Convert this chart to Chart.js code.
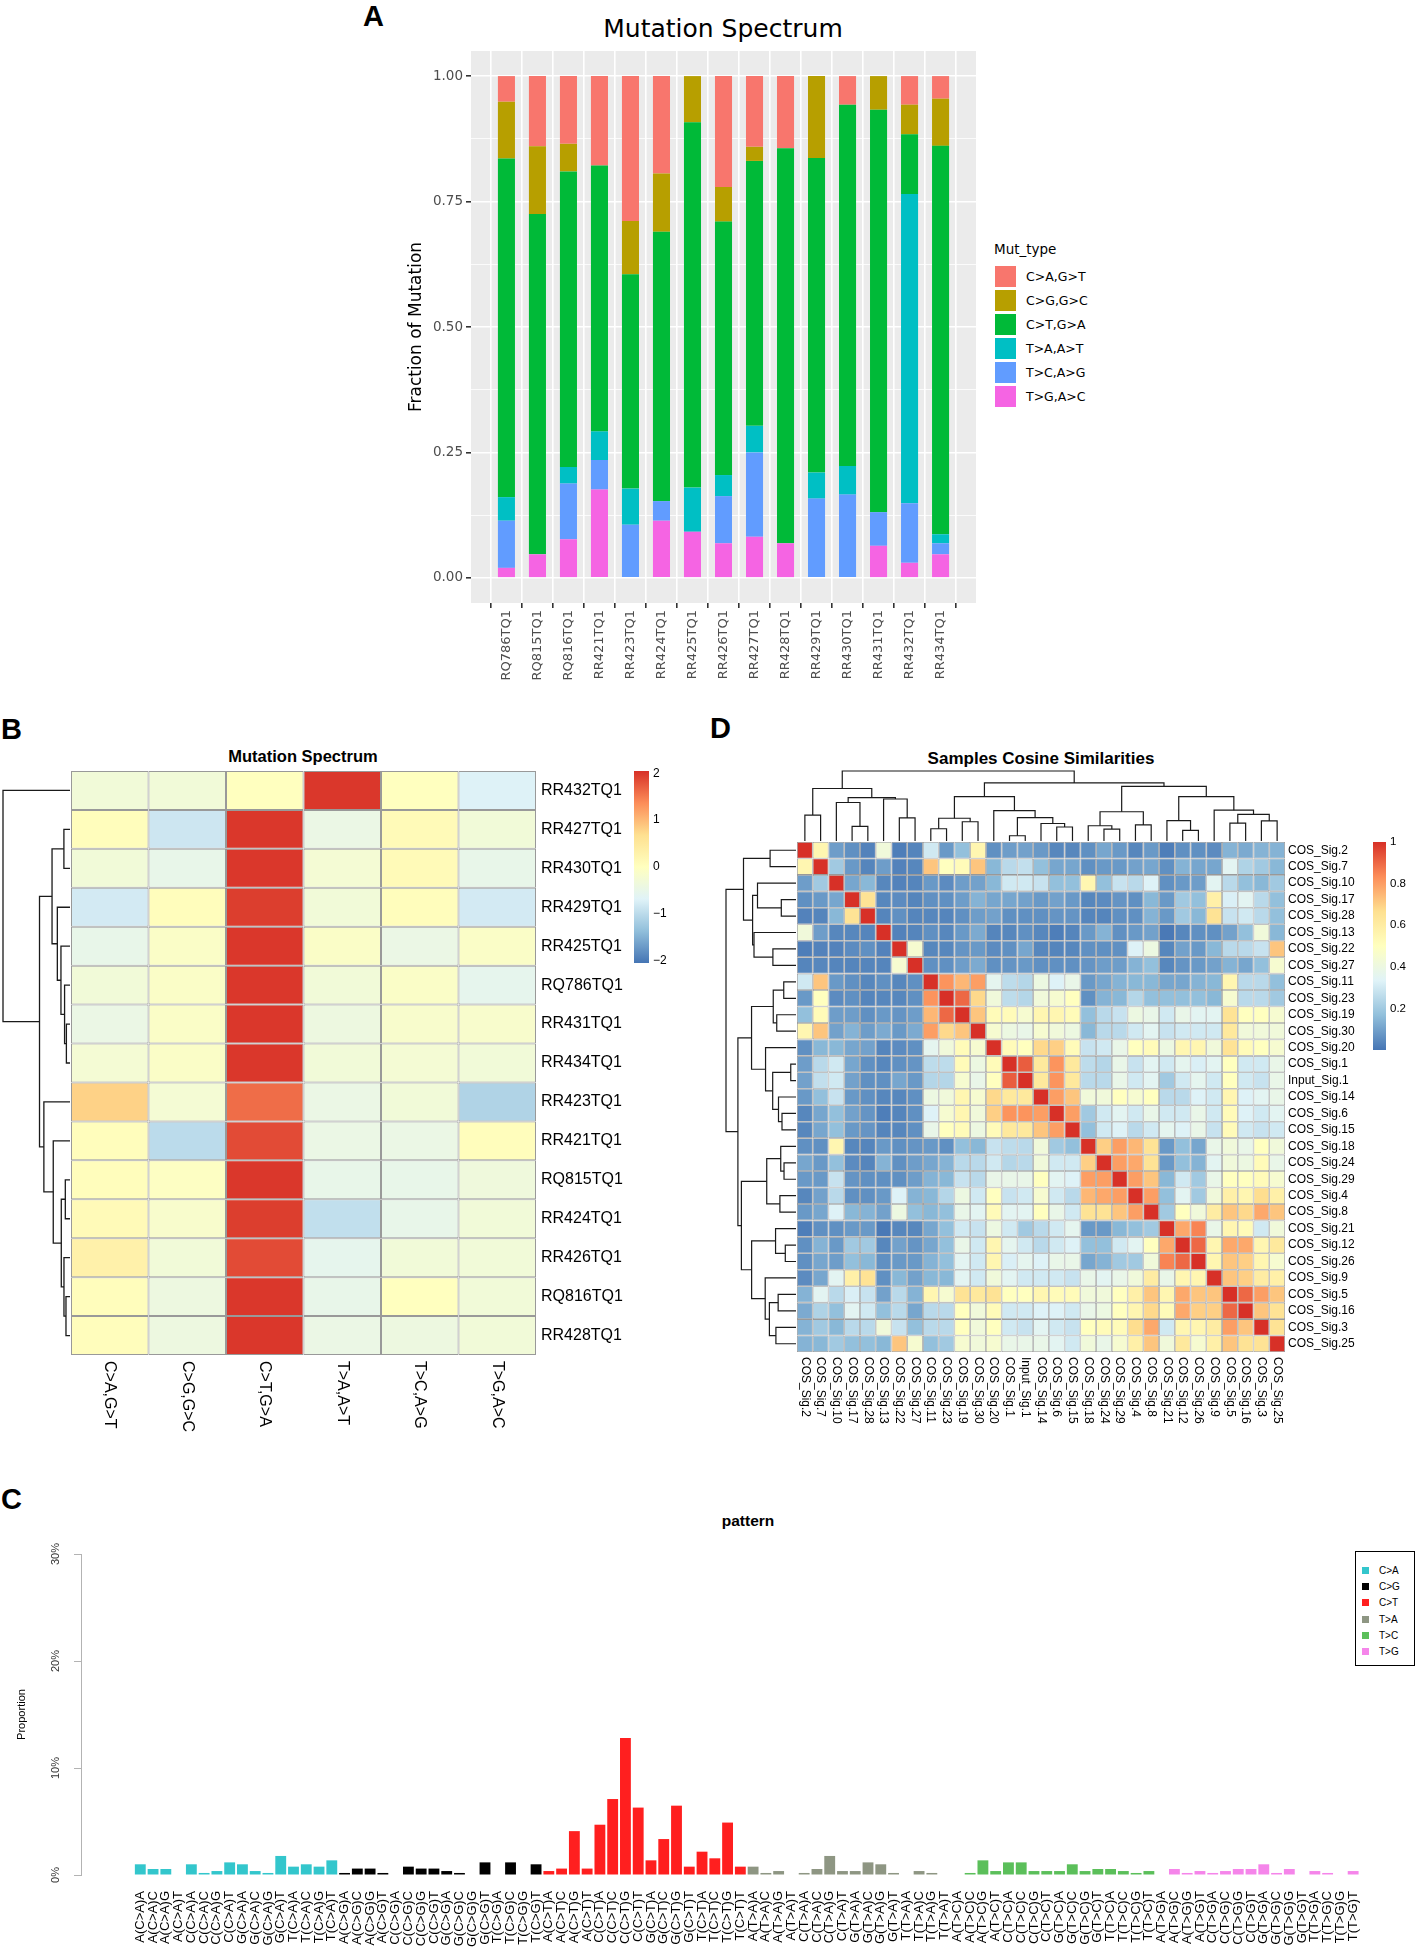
<!DOCTYPE html>
<html>
<head>
<meta charset="utf-8">
<title>Mutation spectrum panels</title>
<script src="https://cdn.jsdelivr.net/npm/chart.js@4.4.1/dist/chart.umd.min.js"></script>
<style>
  html, body { margin: 0; padding: 0; background: #fff; }
  body { position: relative; width: 1417px; height: 1949px; overflow: hidden; font-family: "Liberation Sans", Arial, sans-serif; color: #000; }
  .abs { position: absolute; }
  .letter { position: absolute; font-weight: bold; font-size: 29px; line-height: 29px; }
  .title { position: absolute; width: 600px; text-align: center; line-height: 1; white-space: nowrap; }
</style>
</head>
<body>
<div class="letter" style="left:363px;top:2px">A</div>
<div class="letter" style="left:1px;top:715px">B</div>
<div class="letter" style="left:710px;top:714px">D</div>
<div class="letter" style="left:1px;top:1485px">C</div>

<div class="title" style="left:423px;top:16px;font-family:'DejaVu Sans';font-size:25px">Mutation Spectrum</div>
<div class="title" style="left:3px;top:748px;font-weight:bold;font-size:16.5px">Mutation Spectrum</div>
<div class="title" style="left:741px;top:750px;font-weight:bold;font-size:17px">Samples Cosine Similarities</div>
<div class="title" style="left:448px;top:1513px;font-weight:bold;font-size:15.5px">pattern</div>

<div class="abs" style="left:380px;top:0;width:600px;height:700px"><canvas id="chartA"></canvas></div>
<div class="abs" id="legendA" style="left:994px;top:0;width:200px;height:420px;font-family:'DejaVu Sans'"></div>
<div class="abs" style="left:0;top:740px;width:700px;height:700px"><canvas id="chartB"></canvas></div>
<div class="abs" style="left:700px;top:740px;width:717px;height:700px"><canvas id="chartD"></canvas></div>
<div class="abs" style="left:0;top:1530px;width:1417px;height:419px"><canvas id="chartC"></canvas></div>
<div class="abs" id="legendC" style="left:1355px;top:1551px;width:58px;height:113px;border:1px solid #000;background:#fff"></div>

<script>
// ---------- panel A : mutation spectrum per sample ----------
const samplesA = ['RQ786TQ1','RQ815TQ1','RQ816TQ1','RR421TQ1','RR423TQ1','RR424TQ1','RR425TQ1','RR426TQ1',
                  'RR427TQ1','RR428TQ1','RR429TQ1','RR430TQ1','RR431TQ1','RR432TQ1','RR434TQ1'];
const mutTypes = ['C>A,G>T','C>G,G>C','C>T,G>A','T>A,A>T','T>C,A>G','T>G,A>C'];
const colorsA = ['#F8766D','#B79F00','#00BA38','#00BFC4','#619CFF','#F564E3'];
const fracCA = [0.051,0.140,0.135,0.178,0.289,0.194,0.000,0.221,0.141,0.144,0.000,0.057,0.000,0.057,0.045];
const fracCG = [0.113,0.135,0.055,0.000,0.106,0.116,0.092,0.069,0.028,0.000,0.163,0.000,0.067,0.059,0.094];
const fracCT = [0.675,0.678,0.589,0.530,0.427,0.537,0.728,0.505,0.528,0.787,0.627,0.720,0.802,0.119,0.774];
const fracTA = [0.047,0.000,0.033,0.057,0.072,0.000,0.088,0.042,0.053,0.000,0.052,0.057,0.000,0.616,0.018];
const fracTC = [0.094,0.000,0.111,0.059,0.106,0.039,0.000,0.094,0.168,0.000,0.158,0.166,0.067,0.119,0.022];
const fracTG = [0.020,0.047,0.077,0.176,0.000,0.114,0.092,0.069,0.082,0.069,0.000,0.000,0.064,0.030,0.047];
const yGridA = [0, 0.125, 0.25, 0.375, 0.5, 0.625, 0.75, 0.875, 1];
const yMajorA = [0, 0.25, 0.5, 0.75, 1];

// ---------- panel B : row-scaled spectrum heatmap ----------
const rowsB = ['RR432TQ1','RR427TQ1','RR430TQ1','RR429TQ1','RR425TQ1','RQ786TQ1','RR431TQ1','RR434TQ1',
               'RR423TQ1','RR421TQ1','RQ815TQ1','RR424TQ1','RR426TQ1','RQ816TQ1','RR428TQ1'];
const zScoreB = [
  [-0.30,-0.30, 0.00, 2.00, 0.00,-0.70],
  [ 0.05,-0.85, 2.00,-0.45, 0.10,-0.30],
  [-0.30,-0.50, 2.00,-0.25, 0.10,-0.50],
  [-0.80, 0.05, 1.95,-0.30, 0.05,-0.80],
  [-0.50,-0.10, 2.00,-0.10,-0.45,-0.10],
  [-0.30,-0.10, 2.00,-0.30,-0.10,-0.55],
  [-0.45,-0.10, 2.00,-0.40,-0.15,-0.15],
  [-0.25,-0.10, 2.00,-0.30,-0.25,-0.30],
  [ 0.80,-0.25, 1.60,-0.45,-0.30,-1.10],
  [ 0.05,-1.00, 1.85,-0.45,-0.45, 0.05],
  [ 0.05,-0.05, 2.00,-0.50,-0.50,-0.35],
  [ 0.10,-0.15, 1.95,-0.95,-0.50,-0.30],
  [ 0.30,-0.30, 1.85,-0.55,-0.30,-0.30],
  [ 0.05,-0.40, 2.00,-0.50, 0.00,-0.30],
  [ 0.05,-0.40, 2.00,-0.45,-0.40,-0.30]
];
// dendrogram: [left, right, height]; numbers are row indices
const rowTreeB = [0, [[[1, 2, 0.091], [3, [4, [5, [6, 7, 0.054], 0.081], 0.135], 0.189], 0.268],
                      [8, [9, [[10, 11, 0.07], [12, [13, 14, 0.06], 0.09], 0.13], 0.25], 0.39], 0.455], 1.0];
const keyTicksB = [2, 1, 0, -1, -2];
const keyLabelsB = ['2', '1', '0', '\u22121', '\u22122'];

// ---------- panel D : cosine similarities ----------
const sigNames = ['COS_Sig.2','COS_Sig.7','COS_Sig.10','COS_Sig.17','COS_Sig.28','COS_Sig.13','COS_Sig.22','COS_Sig.27',
  'COS_Sig.11','COS_Sig.23','COS_Sig.19','COS_Sig.30','COS_Sig.20','COS_Sig.1','Input_Sig.1','COS_Sig.14','COS_Sig.6',
  'COS_Sig.15','COS_Sig.18','COS_Sig.24','COS_Sig.29','COS_Sig.4','COS_Sig.8','COS_Sig.21','COS_Sig.12','COS_Sig.26',
  'COS_Sig.9','COS_Sig.5','COS_Sig.16','COS_Sig.3','COS_Sig.25'];
// upper triangle, row i holds columns i..30
const simUpper = [
  [1,.55,.09,.06,.03,.42,.02,.035,.3,.08,.17,.55,.06,.09,.1,.08,.04,.04,.06,.11,.08,.04,.08,.02,.06,.06,.05,.14,.12,.14,.14],
  [1,.2,.08,.035,.09,.03,.04,.72,.5,.52,.72,.15,.25,.27,.17,.11,.11,.06,.08,.08,.1,.11,.06,.14,.11,.11,.35,.23,.2,.15],
  [1,.11,.15,.04,.03,.035,.08,.05,.09,.1,.15,.3,.3,.28,.17,.17,.55,.17,.28,.25,.33,.06,.08,.09,.35,.25,.17,.15,.2],
  [1,.65,.04,.05,.035,.06,.06,.09,.14,.11,.11,.1,.08,.1,.08,.04,.05,.07,.06,.15,.08,.2,.17,.58,.32,.35,.25,.17],
  [1,.035,.06,.035,.04,.035,.06,.09,.1,.06,.06,.06,.07,.07,.035,.035,.06,.06,.14,.08,.2,.15,.65,.28,.3,.25,.17],
  [1,.03,.035,.06,.04,.08,.12,.035,.04,.06,.04,.02,.035,.08,.14,.06,.08,.1,.01,.04,.06,.06,.1,.17,.42,.15],
  [1,.45,.04,.04,.07,.08,.05,.06,.11,.04,.035,.04,.06,.06,.06,.33,.4,.04,.1,.08,.15,.25,.25,.28,.72],
  [1,.06,.06,.09,.12,.06,.07,.08,.06,.06,.06,.07,.09,.09,.14,.17,.04,.07,.08,.1,.14,.11,.17,.45],
  [1,.82,.75,.8,.36,.26,.24,.4,.33,.38,.08,.11,.14,.15,.15,.11,.11,.14,.15,.55,.25,.25,.17],
  [1,.9,.68,.42,.26,.24,.42,.45,.5,.06,.14,.15,.24,.17,.17,.17,.17,.15,.45,.25,.25,.2],
  [1,.72,.52,.52,.45,.55,.55,.52,.17,.25,.28,.4,.38,.3,.38,.35,.35,.65,.5,.5,.45],
  [1,.45,.4,.38,.45,.42,.4,.15,.25,.25,.3,.35,.28,.3,.3,.3,.62,.42,.42,.42],
  [1,.52,.5,.68,.7,.52,.28,.3,.38,.5,.52,.4,.55,.55,.42,.65,.52,.5,.45],
  [1,.92,.62,.82,.62,.26,.24,.38,.28,.35,.3,.36,.32,.35,.5,.3,.3,.38],
  [1,.62,.82,.62,.25,.25,.38,.3,.35,.2,.3,.36,.3,.5,.3,.28,.38],
  [1,.8,.72,.42,.42,.5,.45,.5,.25,.25,.33,.3,.55,.33,.35,.38],
  [1,.8,.2,.3,.35,.3,.38,.3,.3,.38,.3,.52,.33,.3,.35],
  [1,.17,.3,.33,.25,.3,.36,.33,.38,.28,.52,.3,.28,.3],
  [1,.7,.8,.75,.65,.08,.17,.11,.38,.42,.38,.5,.42],
  [1,.8,.78,.65,.08,.17,.14,.35,.42,.4,.52,.38],
  [1,.8,.72,.15,.3,.2,.38,.5,.5,.52,.45],
  [1,.8,.17,.35,.2,.42,.58,.55,.67,.58],
  [1,.2,.5,.42,.6,.72,.68,.78,.72],
  [1,.78,.85,.38,.55,.52,.3,.42],
  [1,.9,.55,.78,.78,.55,.62],
  [1,.55,.72,.7,.55,.45],
  [1,.72,.7,.6,.58],
  [1,.9,.8,.72],
  [1,.72,.65],
  [1,.65],
  [1]
];
const sigTree = [
  [[0, 1, 0.37], [[2, [3, 4, 0.21], 0.55], [5, [6, 7, 0.33], 0.60], 0.62], 0.75],
  [[[[8, 9, 0.175], [10, 11, 0.275], 0.325], [12, [[13, 14, 0.075], [15, [16, 17, 0.2], 0.25], 0.333], 0.435], 0.635],
   [[[18, [19, 20, 0.171], 0.218], [21, 22, 0.23], 0.418],
    [[23, [24, 25, 0.153], 0.292], [26, [[27, 28, 0.255], [29, 30, 0.287], 0.38], 0.44], 0.634], 0.78], 0.83],
  1.0];
const keyTicksD = [1, 0.8, 0.6, 0.4, 0.2];
const keyLabelsD = ['1', '0.8', '0.6', '0.4', '0.2'];

// ---------- panel C : 96 trinucleotide pattern ----------
const baseSubs = ['C>A','C>G','C>T','T>A','T>C','T>G'];
const flanks = ['A','C','G','T'];
const subColors = ['#33C6CC','#000000','#FF1F1F','#8E9683','#5BBF5A','#F585EA'];
const pctCA = [1.0,0.56,0.56,0,1.0,0.19,0.37,1.18,1.0,0.37,0.19,1.78,0.78,1.0,0.78,1.37];
const pctCG = [0.19,0.6,0.6,0.19,0,0.78,0.6,0.6,0.37,0.19,0,1.18,0,1.18,0,1.0];
const pctCT = [0.37,0.6,4.1,0.6,4.7,7.1,12.8,6.3,1.37,3.36,6.48,0.78,2.18,1.56,4.9,0.78];
const pctTA = [0.78,0.19,0.37,0,0.19,0.56,1.78,0.37,0.37,1.18,1.0,0.19,0,0.37,0.19,0];
const pctTC = [0,0.19,1.37,0.37,1.18,1.18,0.37,0.37,0.37,1.0,0.37,0.56,0.56,0.37,0.19,0.37];
const pctTG = [0,0.56,0.19,0.37,0.19,0.37,0.56,0.56,1.0,0.19,0.56,0,0.37,0.19,0,0.37];
const yTicksC = [0, 10, 20, 30];

// ---------- shared helpers ----------
const FAM = '"Liberation Sans", Arial, sans-serif';
const FAM_A = '"DejaVu Sans", sans-serif';
Chart.defaults.font.family = FAM;
Chart.defaults.color = '#000';
Chart.defaults.animation = false;
Chart.defaults.responsive = true;
Chart.defaults.maintainAspectRatio = false;
Chart.defaults.plugins.legend.display = false;
Chart.defaults.plugins.tooltip.enabled = false;

const ramp = ['#4575B4','#91BFDB','#E0F3F8','#FFFFBF','#FEE090','#FC8D59','#D73027'];
function hexRgb(h) { const n = parseInt(h.slice(1), 16); return [n >> 16, (n >> 8) & 255, n & 255]; }
function rampColor(t) {
  t = Math.max(0, Math.min(1, t));
  const p = t * (ramp.length - 1);
  const i = Math.min(Math.floor(p), ramp.length - 2);
  const f = p - i, a = hexRgb(ramp[i]), b = hexRgb(ramp[i + 1]);
  return 'rgb(' + a.map((v, k) => Math.round(v + (b[k] - v) * f)).join(',') + ')';
}

function drawTree(ctx, node, leafPos, hPos, top) {
  function walk(n) {
    if (typeof n === 'number') return { p: leafPos(n), h: 0 };
    const L = walk(n[0]), R = walk(n[1]), h = n[2];
    ctx.beginPath();
    if (top) {
      ctx.moveTo(L.p, hPos(L.h)); ctx.lineTo(L.p, hPos(h)); ctx.lineTo(R.p, hPos(h)); ctx.lineTo(R.p, hPos(R.h));
    } else {
      ctx.moveTo(hPos(L.h), L.p); ctx.lineTo(hPos(h), L.p); ctx.lineTo(hPos(h), R.p); ctx.lineTo(hPos(R.h), R.p);
    }
    ctx.stroke();
    return { p: (L.p + R.p) / 2, h: h };
  }
  walk(node);
}

// column labels, dendrograms and colour key around a heatmap
function makeHeatExtras(cfg) {
  return {
    id: 'heatExtras',
    afterDraw(chart) {
      const { ctx, chartArea: a, scales: { x, y } } = chart;
      ctx.save();
      ctx.fillStyle = '#000';
      ctx.font = cfg.colFont + 'px ' + FAM;
      ctx.textAlign = 'left';
      ctx.textBaseline = 'middle';
      cfg.cols.forEach((lab, i) => {
        ctx.save();
        ctx.translate(x.getPixelForValue(i), a.bottom + cfg.colGap);
        ctx.rotate(Math.PI / 2);
        ctx.fillText(lab, 0, 0);
        ctx.restore();
      });
      ctx.strokeStyle = '#1a1a1a';
      ctx.lineWidth = cfg.treeLine;
      drawTree(ctx, cfg.rowTree, i => y.getPixelForValue(i + 0.5), h => a.left - 1 - h * cfg.treeSize, false);
      if (cfg.colTree) drawTree(ctx, cfg.colTree, i => x.getPixelForValue(i), h => a.top - 1 - h * cfg.treeSize, true);
      const k = cfg.key, x0 = a.right + k.dx, y0 = a.top;
      const g = ctx.createLinearGradient(0, y0 + k.height, 0, y0);
      ramp.forEach((c, i) => g.addColorStop(i / (ramp.length - 1), c));
      ctx.fillStyle = g;
      ctx.fillRect(x0, y0, k.width, k.height);
      ctx.fillStyle = '#000';
      ctx.font = k.font + 'px ' + FAM;
      k.ticks.forEach((v, i) => {
        ctx.fillText(k.labels[i], x0 + k.width + 4, y0 + (cfg.max - v) / (cfg.max - cfg.min) * k.height);
      });
      ctx.restore();
    }
  };
}

function heatmap(id, rows, cols, cellValue, opt) {
  const span = opt.max - opt.min;
  return new Chart(document.getElementById(id), {
    type: 'bar',
    data: {
      labels: cols,
      datasets: rows.map((name, r) => ({
        label: name,
        data: cols.map(() => [r, r + 1]),
        backgroundColor: cols.map((_, c) => rampColor((cellValue(r, c) - opt.min) / span)),
        borderColor: '#999999',
        borderWidth: opt.border,
        borderSkipped: false,
        inflateAmount: 0,
        grouped: false,
        barPercentage: 1,
        categoryPercentage: 1
      }))
    },
    options: {
      layout: { padding: opt.padding },
      scales: {
        x: {
          grid: { display: false, drawTicks: false },
          border: { display: false },
          ticks: { display: false },
          afterFit: s => { s.height = opt.xHeight; }
        },
        y: {
          type: 'linear', position: 'right', reverse: true, min: 0, max: rows.length,
          grid: { display: false, drawTicks: false },
          border: { display: false },
          afterBuildTicks: s => { s.ticks = rows.map((_, i) => ({ value: i + 0.5 })); },
          ticks: { autoSkip: false, padding: opt.labelPad, font: { size: opt.rowFont }, callback: v => rows[Math.floor(v)] },
          afterFit: s => { s.width = opt.yWidth; }
        }
      }
    },
    plugins: [makeHeatExtras(opt)]
  });
}

// ---------- draw A ----------
const panelBg = {
  id: 'panelBg',
  beforeDraw(chart) {
    const { ctx, chartArea: a } = chart;
    ctx.save();
    ctx.fillStyle = '#EBEBEB';
    ctx.fillRect(a.left, a.top, a.right - a.left, a.bottom - a.top);
    ctx.restore();
  }
};
const fracsA = [fracCA, fracCG, fracCT, fracTA, fracTC, fracTG];
const isMajorA = c => c.tick && yMajorA.includes(c.tick.value);
new Chart(document.getElementById('chartA'), {
  type: 'bar',
  data: {
    datasets: mutTypes.map((t, k) => ({
      label: t,
      data: fracsA[k].map((v, i) => ({ x: i, y: v })),
      backgroundColor: colorsA[k],
      borderWidth: 0,
      barPercentage: 0.55,
      categoryPercentage: 1
    })).reverse()
  },
  options: {
    layout: { padding: { top: 51, right: 4, bottom: 0, left: 0 } },
    scales: {
      x: {
        type: 'linear', stacked: true, min: -0.6, max: samplesA.length - 0.4,
        afterBuildTicks: s => { s.ticks = samplesA.map((_, i) => ({ value: i })); },
        ticks: { autoSkip: false, minRotation: 90, maxRotation: 90, padding: 2, color: '#4d4d4d',
                 font: { family: FAM_A, size: 13 }, callback: v => samplesA[v] },
        grid: { color: '#ffffff', lineWidth: 1.6, tickColor: '#333333', tickLength: 5 },
        border: { display: false },
        afterFit: s => { s.height = 97; }
      },
      y: {
        stacked: true, min: -0.05, max: 1.05,
        afterBuildTicks: s => { s.ticks = yGridA.map(v => ({ value: v })); },
        ticks: { autoSkip: false, padding: 3, color: '#4d4d4d', font: { family: FAM_A, size: 13.5 },
                 callback: v => yMajorA.includes(v) ? v.toFixed(2) : '' },
        grid: { color: '#ffffff', lineWidth: c => isMajorA(c) ? 1.6 : 0.8,
                tickColor: c => isMajorA(c) ? '#333333' : 'rgba(0,0,0,0)', tickLength: 5 },
        border: { display: false },
        title: { display: true, text: 'Fraction of Mutation', color: '#000',
                 font: { family: FAM_A, size: 17 }, padding: { top: 26, bottom: 0 } },
        afterFit: s => { s.width = 91; }
      }
    }
  },
  plugins: [panelBg]
});

const legA = document.getElementById('legendA');
const legATitle = document.createElement('div');
legATitle.textContent = 'Mut_type';
legATitle.style.cssText = 'position:absolute;left:0;top:243px;font-size:13.5px;line-height:1;white-space:nowrap';
legA.appendChild(legATitle);
mutTypes.forEach((t, i) => {
  const key = document.createElement('div');
  key.style.cssText = `position:absolute;left:1px;top:${266 + i * 24}px;width:21px;height:21px;background:${colorsA[i]}`;
  const txt = document.createElement('div');
  txt.textContent = t;
  txt.style.cssText = `position:absolute;left:32px;top:${266 + i * 24}px;height:21px;line-height:21px;font-size:12.5px;white-space:nowrap`;
  legA.appendChild(key);
  legA.appendChild(txt);
});

// ---------- draw B ----------
heatmap('chartB', rowsB, mutTypes, (r, c) => zScoreB[r][c], {
  min: -2.05, max: 2.05, border: 1,
  padding: { left: 71, top: 31, right: 74, bottom: 0 },
  xHeight: 85, yWidth: 90, labelPad: 5, rowFont: 16,
  cols: mutTypes, colFont: 16, colGap: 6,
  rowTree: rowTreeB, colTree: null, treeSize: 67, treeLine: 1.3,
  key: { dx: 98, width: 15, height: 192, font: 12, ticks: keyTicksB, labels: keyLabelsB }
});

// ---------- draw D ----------
heatmap('chartD', sigNames, sigNames, (r, c) => r <= c ? simUpper[r][c - r] : simUpper[c][r - c], {
  min: 0, max: 1, border: 0.8,
  padding: { left: 97, top: 102, right: 52, bottom: 0 },
  xHeight: 88, yWidth: 80, labelPad: 3, rowFont: 12,
  cols: sigNames, colFont: 12, colGap: 5,
  rowTree: sigTree, colTree: sigTree, treeSize: 70, treeLine: 1.2,
  key: { dx: 88, width: 13, height: 208, font: 11.5, ticks: keyTicksD, labels: keyLabelsD }
});

// ---------- draw C ----------
const contexts = [];
baseSubs.forEach(m => flanks.forEach(l => flanks.forEach(r => contexts.push(l + '(' + m + ')' + r))));
const pctAll = [...pctCA, ...pctCG, ...pctCT, ...pctTA, ...pctTC, ...pctTG];
const pctLabels = {
  id: 'pctLabels',
  afterDraw(chart) {
    const { ctx, chartArea: a, scales: { y } } = chart;
    ctx.save();
    ctx.font = '11px ' + FAM;
    ctx.fillStyle = '#333';
    ctx.textAlign = 'center';
    ctx.textBaseline = 'middle';
    y.ticks.forEach(t => {
      ctx.save();
      ctx.translate(a.left - 25, y.getPixelForValue(t.value));
      ctx.rotate(-Math.PI / 2);
      ctx.fillText(t.value + '%', 0, 0);
      ctx.restore();
    });
    ctx.restore();
  }
};
new Chart(document.getElementById('chartC'), {
  type: 'bar',
  data: {
    datasets: [{
      label: 'pattern',
      data: contexts.map((_, i) => ({ x: i, y: pctAll[i] })),
      backgroundColor: contexts.map((_, i) => subColors[Math.floor(i / 16)]),
      borderWidth: 0,
      barPercentage: 0.85,
      categoryPercentage: 1
    }]
  },
  options: {
    layout: { padding: { top: 24, right: 2, bottom: 0, left: 12 } },
    scales: {
      x: {
        type: 'linear', min: -4.1, max: 99.3,
        afterBuildTicks: s => { s.ticks = contexts.map((_, i) => ({ value: i })); },
        ticks: { autoSkip: false, minRotation: 90, maxRotation: 90, padding: 16, font: { size: 13 },
                 color: '#000', callback: v => contexts[v] },
        grid: { display: false, drawTicks: false },
        border: { display: false },
        afterFit: s => { s.height = 74; }
      },
      y: {
        min: 0, max: 30,
        afterBuildTicks: s => { s.ticks = yTicksC.map(v => ({ value: v })); },
        ticks: { display: false },
        grid: { drawOnChartArea: false, color: '#b3b3b3', tickLength: 7 },
        border: { color: '#b3b3b3' },
        title: { display: true, text: 'Proportion', font: { size: 11 }, padding: { top: 3, bottom: 0 } },
        afterFit: s => { s.width = 69; }
      }
    }
  },
  plugins: [pctLabels]
});

const legC = document.getElementById('legendC');
baseSubs.forEach((m, i) => {
  const key = document.createElement('div');
  key.style.cssText = `position:absolute;left:6px;top:${15 + i * 16.2}px;width:7px;height:7px;background:${subColors[i]}`;
  const txt = document.createElement('div');
  txt.textContent = m;
  txt.style.cssText = `position:absolute;left:23px;top:${11 + i * 16.2}px;height:15px;line-height:15px;font-size:10px;white-space:nowrap`;
  legC.appendChild(key);
  legC.appendChild(txt);
});
</script>
</body>
</html>
